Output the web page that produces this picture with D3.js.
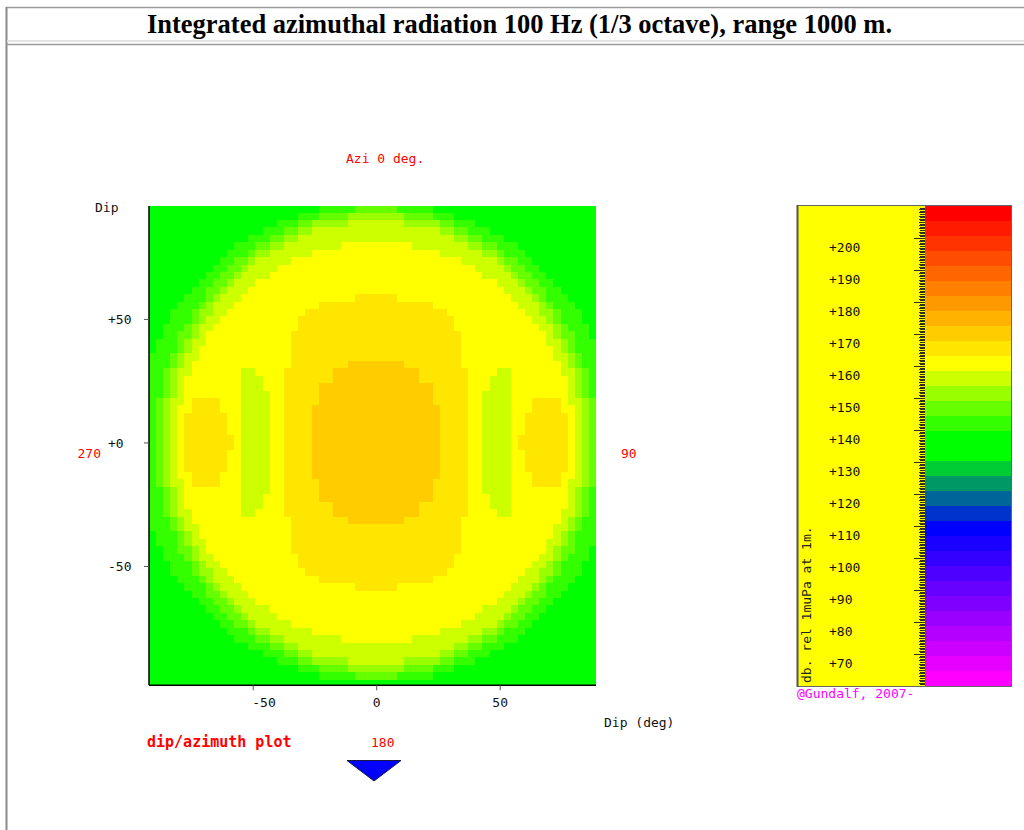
<!DOCTYPE html>
<html>
<head>
<meta charset="utf-8">
<script src="https://cdn.jsdelivr.net/npm/d3@7"></script>
<style>
  html, body { margin: 0; padding: 0; background: #ffffff; }
  svg { display: block; }
  .mono { font-family: "DejaVu Sans Mono", "Liberation Mono", monospace; font-size: 13px; }
</style>
</head>
<body>
<svg id="chart" width="1024" height="830"></svg>
<script>
// ---- dB colour bands, loudest (top) to quietest (bottom) ----
const bandColors = [
  "#ff0000", "#ff1a00", "#ff3300", "#ff4d00", "#ff6600", "#ff8000", "#ff9900", "#ffb300",
  "#ffcc00", "#ffe600", "#ffff00", "#ccff00", "#99ff00", "#66ff00", "#33ff00", "#00ff00",
  "#00ff00", "#00cc33", "#009966", "#006699", "#0033cc", "#0000ff", "#1a00ff", "#3300ff",
  "#4d00ff", "#6600ff", "#8000ff", "#9900ff", "#b300ff", "#cc00ff", "#e600ff", "#ff00ff"
];
const scaleRange = [60, 210];                       // dB re 1 µPa at 1 m
const scaleLabels = [200, 190, 180, 170, 160, 150, 140, 130, 120, 110, 100, 90, 80, 70];

// ---- radiation map ----
// level index -> dB
const levelDb = [137, 142, 147, 151.5, 156, 161, 165.5, 170];
// one row per 3 deg of dip, from +96 down to -99; runs of "level*count" across 63 cells
const radiationRows = [
  "0*24 1*5 2*6 1*5 0*23",
  "0*21 1*3 2*4 3*8 2*4 1*3 0*20",
  "0*18 1*3 2*2 3*5 4*8 3*5 2*2 1*3 0*17",
  "0*16 1*3 2*2 3*2 4*18 3*2 2*2 1*3 0*15",
  "0*14 1*3 2*2 3*2 4*22 3*2 2*2 1*3 0*13",
  "0*12 1*3 2*2 3*2 4*8 5*10 4*8 3*2 2*2 1*3 0*11",
  "0*11 1*3 2*1 3*2 4*6 5*18 4*6 3*2 2*1 1*3 0*10",
  "0*10 1*2 2*2 3*1 4*5 5*24 4*5 3*1 2*2 1*2 0*9",
  "0*9 1*2 2*2 3*1 4*4 5*28 4*4 3*1 2*2 1*2 0*8",
  "0*8 1*2 2*2 3*1 4*4 5*30 4*4 3*1 2*2 1*2 0*7",
  "0*7 1*2 2*2 3*1 4*3 5*34 4*3 3*1 2*2 1*2 0*6",
  "0*6 1*2 2*2 3*1 4*3 5*36 4*3 3*1 2*2 1*2 0*5",
  "0*5 1*3 2*1 3*1 4*3 5*16 6*6 5*16 4*3 3*1 2*1 1*3 0*4",
  "0*4 1*3 2*1 3*1 4*3 5*12 6*16 5*12 4*3 3*1 2*1 1*3 0*3",
  "0*3 1*3 2*1 3*2 4*2 5*11 6*20 5*11 4*2 3*2 2*1 1*3 0*2",
  "0*3 1*3 2*1 3*1 4*2 5*11 6*22 5*11 4*2 3*1 2*1 1*3 0*2",
  "0*2 1*3 2*1 3*1 4*2 5*12 6*22 5*12 4*2 3*1 2*1 1*3 0*1",
  "0*2 1*2 2*2 3*1 4*1 5*12 6*24 5*12 4*1 3*1 2*2 1*2 0*1",
  "0*1 1*3 2*1 3*1 4*2 5*12 6*24 5*12 4*2 3*1 2*1 1*3",
  "0*1 1*3 2*1 3*1 4*1 5*13 6*24 5*13 4*1 3*1 2*1 1*3",
  "1*3 2*1 3*1 4*2 5*13 6*24 5*13 4*2 3*1 2*1 1*2",
  "1*3 2*1 3*1 4*1 5*14 6*8 7*8 6*8 5*14 4*1 3*1 2*1 1*2",
  "1*2 2*1 3*1 4*2 5*7 4*2 5*4 6*7 7*12 6*7 5*4 4*2 5*7 4*2 3*1 2*1 1*1",
  "1*2 2*1 3*1 4*1 5*8 4*3 5*3 6*7 7*12 6*7 5*3 4*3 5*8 4*1 3*1 2*1 1*1",
  "1*2 2*1 3*1 4*1 5*8 4*3 5*3 6*5 7*16 6*5 5*3 4*3 5*8 4*1 3*1 2*1 1*1",
  "1*2 2*1 3*1 4*1 5*8 4*4 5*2 6*5 7*16 6*5 5*2 4*4 5*8 4*1 3*1 2*1 1*1",
  "1*1 2*1 3*1 4*2 5*1 6*4 5*3 4*4 5*2 6*5 7*16 6*5 5*2 4*4 5*3 6*4 5*1 4*2 3*1 2*1",
  "1*1 2*1 3*1 4*1 5*2 6*4 5*3 4*4 5*2 6*4 7*18 6*4 5*2 4*4 5*3 6*4 5*2 4*1 3*1 2*1",
  "1*1 2*1 3*1 4*1 5*1 6*6 5*2 4*4 5*2 6*4 7*18 6*4 5*2 4*4 5*2 6*6 5*1 4*1 3*1 2*1",
  "1*1 2*1 3*1 4*1 5*1 6*6 5*2 4*4 5*2 6*4 7*18 6*4 5*2 4*4 5*2 6*6 5*1 4*1 3*1 2*1",
  "1*1 2*1 3*1 4*1 5*1 6*6 5*2 4*4 5*2 6*4 7*18 6*4 5*2 4*4 5*2 6*6 5*1 4*1 3*1 2*1",
  "1*1 2*1 3*1 4*1 5*1 6*7 5*1 4*4 5*2 6*4 7*18 6*4 5*2 4*4 5*1 6*7 5*1 4*1 3*1 2*1",
  "1*1 2*1 3*1 4*1 5*1 6*7 5*1 4*4 5*2 6*4 7*18 6*4 5*2 4*4 5*1 6*7 5*1 4*1 3*1 2*1",
  "1*1 2*1 3*1 4*1 5*1 6*6 5*2 4*4 5*2 6*4 7*18 6*4 5*2 4*4 5*2 6*6 5*1 4*1 3*1 2*1",
  "1*1 2*1 3*1 4*1 5*1 6*6 5*2 4*4 5*2 6*4 7*18 6*4 5*2 4*4 5*2 6*6 5*1 4*1 3*1 2*1",
  "1*1 2*1 3*1 4*1 5*1 6*6 5*2 4*4 5*2 6*4 7*18 6*4 5*2 4*4 5*2 6*6 5*1 4*1 3*1 2*1",
  "1*1 2*1 3*1 4*1 5*2 6*4 5*3 4*4 5*2 6*4 7*18 6*4 5*2 4*4 5*3 6*4 5*2 4*1 3*1 2*1",
  "1*1 2*1 3*1 4*2 5*1 6*4 5*3 4*4 5*2 6*5 7*16 6*5 5*2 4*4 5*3 6*4 5*1 4*2 3*1 2*1",
  "1*2 2*1 3*1 4*1 5*8 4*4 5*2 6*5 7*16 6*5 5*2 4*4 5*8 4*1 3*1 2*1 1*1",
  "1*2 2*1 3*1 4*1 5*8 4*3 5*3 6*5 7*16 6*5 5*3 4*3 5*8 4*1 3*1 2*1 1*1",
  "1*2 2*1 3*1 4*1 5*8 4*3 5*3 6*7 7*12 6*7 5*3 4*3 5*8 4*1 3*1 2*1 1*1",
  "1*2 2*1 3*1 4*2 5*7 4*2 5*4 6*7 7*12 6*7 5*4 4*2 5*7 4*2 3*1 2*1 1*1",
  "1*3 2*1 3*1 4*1 5*14 6*8 7*8 6*8 5*14 4*1 3*1 2*1 1*2",
  "1*3 2*1 3*1 4*2 5*13 6*24 5*13 4*2 3*1 2*1 1*2",
  "0*1 1*3 2*1 3*1 4*1 5*13 6*24 5*13 4*1 3*1 2*1 1*3",
  "0*1 1*3 2*1 3*1 4*2 5*12 6*24 5*12 4*2 3*1 2*1 1*3",
  "0*2 1*2 2*2 3*1 4*1 5*12 6*24 5*12 4*1 3*1 2*2 1*2 0*1",
  "0*2 1*3 2*1 3*1 4*2 5*12 6*22 5*12 4*2 3*1 2*1 1*3 0*1",
  "0*3 1*3 2*1 3*1 4*2 5*11 6*22 5*11 4*2 3*1 2*1 1*3 0*2",
  "0*3 1*3 2*1 3*2 4*2 5*11 6*20 5*11 4*2 3*2 2*1 1*3 0*2",
  "0*4 1*3 2*1 3*1 4*3 5*12 6*16 5*12 4*3 3*1 2*1 1*3 0*3",
  "0*5 1*3 2*1 3*1 4*3 5*16 6*6 5*16 4*3 3*1 2*1 1*3 0*4",
  "0*6 1*2 2*2 3*1 4*3 5*36 4*3 3*1 2*2 1*2 0*5",
  "0*7 1*2 2*2 3*1 4*3 5*34 4*3 3*1 2*2 1*2 0*6",
  "0*8 1*2 2*2 3*1 4*4 5*30 4*4 3*1 2*2 1*2 0*7",
  "0*9 1*2 2*2 3*1 4*4 5*28 4*4 3*1 2*2 1*2 0*8",
  "0*10 1*2 2*2 3*1 4*5 5*24 4*5 3*1 2*2 1*2 0*9",
  "0*11 1*3 2*1 3*2 4*6 5*18 4*6 3*2 2*1 1*3 0*10",
  "0*12 1*3 2*2 3*2 4*8 5*10 4*8 3*2 2*2 1*3 0*11",
  "0*14 1*3 2*2 3*2 4*22 3*2 2*2 1*3 0*13",
  "0*16 1*3 2*2 3*2 4*18 3*2 2*2 1*3 0*15",
  "0*18 1*3 2*2 3*5 4*8 3*5 2*2 1*3 0*17",
  "0*21 1*3 2*4 3*8 2*4 1*3 0*20",
  "0*24 1*5 2*6 1*5 0*23",
  "0*63"
];
const dipTop = 96, dipStep = 3;                     // first row starts at +96 deg
const azimuthCells = 63;
const xTicks = [-50, 0, 50];
const yTicks = [50, 0, -50];
const yTickLabels = ["+50", "+0", "-50"];

const svg = d3.select("#chart");

// ---- page frame and heading ----
svg.append("line").attr("x1", 6).attr("x2", 1024).attr("y1", 7.5).attr("y2", 7.5)
  .attr("stroke", "#9a9a9a").attr("stroke-width", 1.5);
svg.append("line").attr("x1", 6.5).attr("x2", 6.5).attr("y1", 7).attr("y2", 830)
  .attr("stroke", "#8a8a8a").attr("stroke-width", 2);
svg.append("line").attr("x1", 7).attr("x2", 1024).attr("y1", 41).attr("y2", 41)
  .attr("stroke", "#e2e2e2").attr("stroke-width", 2);
svg.append("line").attr("x1", 7).attr("x2", 1024).attr("y1", 44.5).attr("y2", 44.5)
  .attr("stroke", "#9a9a9a").attr("stroke-width", 1.5);
svg.append("text")
  .attr("x", 519.5).attr("y", 32.5)
  .attr("text-anchor", "middle")
  .attr("font-family", "'Liberation Serif', 'Times New Roman', serif")
  .attr("font-weight", "bold").attr("font-size", 27)
  .attr("textLength", 745).attr("lengthAdjust", "spacingAndGlyphs")
  .text("Integrated azimuthal radiation 100 Hz (1/3 octave), range 1000 m.");

// ---- scales ----
const plot = { left: 149, right: 596, top: 206, bottom: 685.3 };
const x = d3.scaleLinear().domain([-92, 89]).range([plot.left, plot.right]);
const y = d3.scaleLinear().domain([95.7, -98.3]).range([plot.top, plot.bottom]);
const col = d3.scaleBand().domain(d3.range(azimuthCells)).range([x(-92), x(89)]);
const colour = d3.scaleQuantize().domain(scaleRange).range(bandColors.slice().reverse());

// ---- radiation map cells ----
const cells = [];
radiationRows.forEach((row, r) => {
  let c = 0;
  row.split(" ").forEach(run => {
    const [lvl, n] = run.split("*").map(Number);
    for (let k = 0; k < n; k++, c++) cells.push({ r, c, db: levelDb[lvl] });
  });
});

svg.append("clipPath").attr("id", "plotClip")
  .append("rect").attr("x", plot.left).attr("y", plot.top)
  .attr("width", plot.right - plot.left).attr("height", plot.bottom - plot.top);

svg.append("g").attr("clip-path", "url(#plotClip)")
  .attr("shape-rendering", "crispEdges")
  .selectAll("rect").data(cells).join("rect")
  .attr("x", d => col(d.c))
  .attr("width", col.bandwidth() + 0.5)
  .attr("y", d => y(dipTop - d.r * dipStep))
  .attr("height", d => y(dipTop - (d.r + 1) * dipStep) - y(dipTop - d.r * dipStep) + 0.5)
  .attr("fill", d => colour(d.db));

// ---- axes ----
const yAxis = svg.append("g").attr("transform", `translate(${plot.left},0)`)
  .call(d3.axisLeft(y).tickValues(yTicks).tickSize(5).tickFormat((d, i) => yTickLabels[i]));
yAxis.select(".domain").attr("d", `M0,${plot.top}V${plot.bottom}`).attr("stroke", "#000").attr("stroke-width", 1.5);
yAxis.selectAll(".tick line").attr("stroke", "#555");
yAxis.selectAll(".tick text").attr("class", "mono").attr("fill", "#111")
  .attr("x", 108 - plot.left).attr("text-anchor", "start").attr("dy", "0.35em");

const xAxis = svg.append("g").attr("transform", `translate(0,${plot.bottom})`)
  .call(d3.axisBottom(x).tickValues(xTicks).tickSize(5).tickFormat(d => d < 0 ? "-" + Math.abs(d) : String(d)));
xAxis.select(".domain").attr("d", `M${plot.left},0H${plot.right}`).attr("stroke", "#000").attr("stroke-width", 1.5);
xAxis.selectAll(".tick line").attr("stroke", "#555");
xAxis.selectAll(".tick text").attr("class", "mono").attr("fill", "#111")
  .attr("y", 22).attr("dy", 0)
  .attr("text-anchor", d => d < 0 ? "start" : "middle")
  .attr("x", d => d < 0 ? -1 : 0);

// ---- plot annotations ----
const ann = svg.append("g").attr("class", "mono");
ann.append("text").attr("x", 95).attr("y", 212).attr("fill", "#111").text("Dip");
ann.append("text").attr("x", 346).attr("y", 163).attr("fill", "#ff0000").text("Azi 0 deg.");
ann.append("text").attr("x", 101).attr("y", 458).attr("text-anchor", "end").attr("fill", "#ff0000").text("270");
ann.append("text").attr("x", 621).attr("y", 458).attr("fill", "#ff0000").text("90");
ann.append("text").attr("x", 604).attr("y", 727).attr("fill", "#111").text("Dip (deg)");
ann.append("text").attr("x", 371).attr("y", 747).attr("fill", "#ff0000").text("180");
svg.append("text").attr("x", 147).attr("y", 747)
  .attr("font-family", "'DejaVu Sans Mono', monospace").attr("font-size", 15).attr("font-weight", "bold")
  .attr("fill", "#ff0000").text("dip/azimuth plot");
svg.append("path").attr("d", "M347,760.5 L401,760.5 L374,781 Z")
  .attr("fill", "#0000ff").attr("stroke", "#1a1a40").attr("stroke-width", 1);

// ---- colour scale panel ----
const cb = { left: 798, split: 925, right: 1011, top: 206, bottom: 686 };
const cy = d3.scaleLinear().domain(scaleRange).range([cb.bottom, cb.top]);
const bandStep = (scaleRange[1] - scaleRange[0]) / bandColors.length;

svg.append("rect").attr("x", cb.left).attr("y", cb.top)
  .attr("width", cb.split - cb.left).attr("height", cb.bottom - cb.top).attr("fill", "#ffff00");

svg.append("g").attr("shape-rendering", "crispEdges")
  .selectAll("rect").data(bandColors).join("rect")
  .attr("x", cb.split).attr("width", cb.right - cb.split)
  .attr("y", (d, i) => cy(scaleRange[1] - i * bandStep))
  .attr("height", (d, i) => cy(scaleRange[1] - (i + 1) * bandStep) - cy(scaleRange[1] - i * bandStep) + 0.5)
  .attr("fill", d => d);

// ruler ticks along the right edge of the label area
const ruler = svg.append("g").attr("stroke", "#2e2e1a").attr("stroke-width", 1);
d3.range(scaleRange[0] + 0.5, scaleRange[1], 0.5).forEach(v => {
  const len = v % 10 === 0 ? 11 : (v % 1 === 0 ? 6 : 5);
  ruler.append("line").attr("x1", cb.split - len).attr("x2", cb.split)
    .attr("y1", Math.round(cy(v)) + 0.5).attr("y2", Math.round(cy(v)) + 0.5);
});

svg.append("g").attr("class", "mono").attr("fill", "#111")
  .selectAll("text").data(scaleLabels).join("text")
  .attr("x", 829).attr("y", d => cy(d) + 9.7).attr("dy", "0.35em")
  .text(d => "+" + d);

svg.append("text").attr("class", "mono").attr("fill", "#222")
  .attr("transform", "translate(806.5,683) rotate(-90)")
  .attr("dy", "0.35em").text("db. rel 1muPa at 1m.");

svg.append("rect").attr("x", cb.left - 0.5).attr("y", cb.top - 0.5)
  .attr("width", cb.right - cb.left + 1).attr("height", cb.bottom - cb.top + 1)
  .attr("fill", "none").attr("stroke", "#666").attr("stroke-width", 1);
svg.append("line").attr("x1", cb.left - 0.5).attr("x2", cb.left - 0.5)
  .attr("y1", cb.top - 1).attr("y2", cb.bottom + 1).attr("stroke", "#555").attr("stroke-width", 2);

svg.append("text").attr("class", "mono").attr("x", 797).attr("y", 698)
  .attr("fill", "#ff00ff").text("@Gundalf, 2007-");
</script>
</body>
</html>
